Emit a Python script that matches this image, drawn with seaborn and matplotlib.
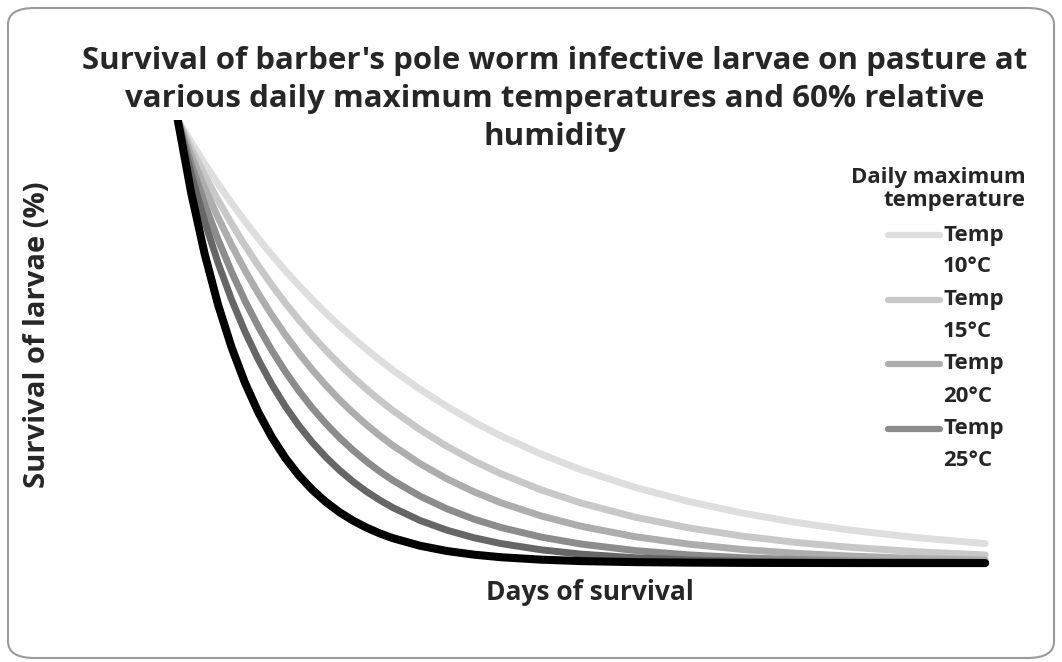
import numpy as np
import pandas as pd
import seaborn as sns
import matplotlib.pyplot as plt
from matplotlib.patches import FancyBboxPatch
from matplotlib.lines import Line2D

# days since deposition on pasture (x axis has no ticks in the original)
days = [0, 1, 2, 3, 4, 5, 6, 7, 8, 9, 10, 11, 12, 13, 14, 15, 16, 18, 20, 22, 24, 27, 30,
        34, 38, 42, 46, 50, 55, 60]

# survival (%)
temp_10 = [100, 94.93, 90.12, 85.56, 81.22, 77.11, 73.20, 69.49, 65.97, 62.63, 59.45, 56.44,
           53.58, 50.87, 48.29, 45.84, 43.52, 39.22, 35.35, 31.86, 28.71, 24.59, 21.02,
           17.07, 13.87, 11.26, 9.15, 7.43, 5.72, 4.40]
temp_15 = [100, 93.55, 87.51, 81.87, 76.59, 71.64, 67.02, 62.70, 58.65, 54.87, 51.33, 48.02,
           44.92, 42.02, 39.31, 36.77, 34.40, 30.10, 26.35, 23.06, 20.18, 16.52, 13.53,
           10.35, 7.93, 6.07, 4.65, 3.56, 2.55, 1.83]
temp_20 = [100, 92.03, 84.70, 77.96, 71.75, 66.03, 60.77, 55.93, 51.48, 47.38, 43.60, 40.13,
           36.93, 33.99, 31.29, 28.79, 26.50, 22.45, 19.01, 16.11, 13.64, 10.64, 8.29,
           5.95, 4.27, 3.06, 2.20, 1.58, 1.04, 0.69]
temp_25 = [100, 90.03, 81.06, 72.98, 65.70, 59.16, 53.26, 47.95, 43.17, 38.87, 34.99, 31.50,
           28.37, 25.54, 22.99, 20.70, 18.64, 15.11, 12.25, 9.93, 8.05, 5.87, 4.29,
           2.82, 1.85, 1.21, 0.80, 0.52, 0.31, 0.18]
temp_30 = [100, 87.81, 77.11, 67.70, 59.45, 52.20, 45.84, 40.25, 35.34, 31.04, 27.25, 23.93,
           21.01, 18.45, 16.20, 14.23, 12.49, 9.63, 7.43, 5.73, 4.42, 3.00, 2.02,
           1.20, 0.72, 0.43, 0.25, 0.15, 0.08, 0.04]
temp_35 = [100, 83.53, 69.77, 58.27, 48.68, 40.66, 33.96, 28.37, 23.69, 19.79, 16.53, 13.81,
           11.53, 9.63, 8.05, 6.72, 5.61, 3.92, 2.73, 1.91, 1.33, 0.78, 0.45,
           0.22, 0.11, 0.05, 0.03, 0.01, 0, 0]

series = {
    'Temp 10°C': temp_10,
    'Temp 15°C': temp_15,
    'Temp 20°C': temp_20,
    'Temp 25°C': temp_25,
    'Temp 30°C': temp_30,
    'Temp 35°C': temp_35,
}
colors = {
    'Temp 10°C': '#dedede',
    'Temp 15°C': '#c8c8c8',
    'Temp 20°C': '#adadad',
    'Temp 25°C': '#8c8c8c',
    'Temp 30°C': '#666666',
    'Temp 35°C': '#000000',
}
legend_names = ['Temp 10°C', 'Temp 15°C', 'Temp 20°C', 'Temp 25°C']

df = pd.DataFrame([(k, d, v) for k, vals in series.items() for d, v in zip(days, vals)],
                  columns=['temp', 'day', 'survival'])

sns.set_theme(style='white')
plt.rcParams['font.family'] = ['Open Sans', 'DejaVu Sans']

fig = plt.figure(figsize=(10.62, 6.62), dpi=100)
ax = fig.add_axes([0.161, 0.136, 0.773, 0.683])

for name in series:
    lw = 5.8 if name == 'Temp 35°C' else 5.0
    sns.lineplot(data=df[df['temp'] == name], x='day', y='survival', color=colors[name],
                 linewidth=lw, ax=ax, solid_capstyle='round')

ax.set_xlim(-0.5, 60.5)
ax.set_ylim(-2, 100)
ax.set_xticks([])
ax.set_yticks([])
for s in ax.spines.values():
    s.set_visible(False)
ax.set_xlabel('')
ax.set_ylabel('')

# rounded chart border
fig.patches.append(FancyBboxPatch((8 / 1062, 4 / 662), 1046 / 1062, 650 / 662,
                                  boxstyle='round,pad=0,rounding_size=0.025',
                                  transform=fig.transFigure, fill=False,
                                  edgecolor='#9a9a9a', linewidth=1.5))

fig.text(555 / 1062, 1 - 99 / 662,
         "Survival of barber's pole worm infective larvae on pasture at\n"
         "various daily maximum temperatures and 60% relative\nhumidity",
         ha='center', va='center', fontsize=22.5, fontweight='bold', linespacing=1.35)
fig.text(38 / 1062, 1 - 335 / 662, 'Survival of larvae (%)', rotation=90,
         ha='center', va='center', fontsize=21, fontweight='bold')
fig.text(590 / 1062, 1 - 592 / 662, 'Days of survival',
         ha='center', va='center', fontsize=19, fontweight='bold')

# legend
fig.text(1026 / 1062, 1 - 189 / 662, 'Daily maximum\ntemperature', ha='right', va='center',
         fontsize=16, fontweight='bold', linespacing=1.15)
for i, name in enumerate(legend_names):
    y = 1 - (235 + 64.5 * i) / 662
    fig.add_artist(Line2D([888 / 1062, 940 / 1062], [y, y], transform=fig.transFigure,
                          color=colors[name], linewidth=4.5, solid_capstyle='round'))
    t, c = name.split(' ')
    fig.text(943 / 1062, y, t, ha='left', va='center', fontsize=16, fontweight='bold')
    fig.text(943 / 1062, y - 32 / 662, c, ha='left', va='center', fontsize=16, fontweight='bold')

fig.savefig('out.png', dpi=100, facecolor='white')
